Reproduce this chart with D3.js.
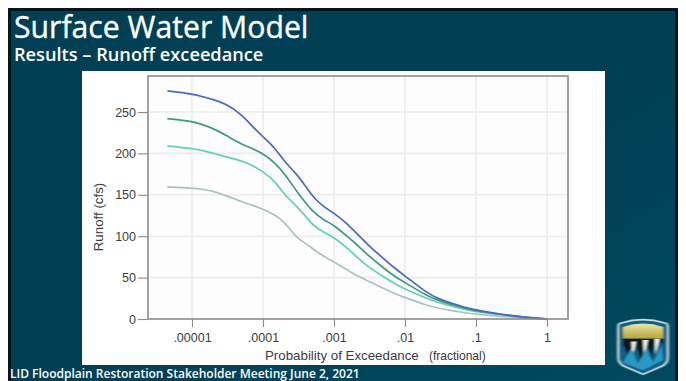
<!DOCTYPE html>
<html><head><meta charset="utf-8">
<script src="https://cdn.jsdelivr.net/npm/d3@7"></script>
<style>
html,body{margin:0;padding:0;background:#fff}
svg{display:block}
text{font-family:"Liberation Sans",Arial,sans-serif}
.slide{font-family:"Open Sans","Noto Sans",sans-serif;fill:#fff}
</style></head><body>
<svg id="c" width="686" height="381"></svg>
<script>
const title = "Surface Water Model";
const subtitle = "Results – Runoff exceedance";
const footer = "LID Floodplain Restoration Stakeholder Meeting June 2, 2021";
const xLabel = "Probability of Exceedance";
const xUnit = "(fractional)";
const yLabel = "Runoff (cfs)";
const xTicks = [0.00001,0.0001,0.001,0.01,0.1,1];
const xTickLabels = [".00001",".0001",".001",".01",".1","1"];
const yTicks = [0,50,100,150,200,250];
const prob = [4.5e-6,1e-5,1.5e-5,2e-5,3e-5,5e-5,7e-5,1e-4,1.5e-4,2e-4,3e-4,4e-4,5e-4,7e-4,1e-3,1.5e-3,2e-3,3e-3,5e-3,7e-3,.01,.02,.03,.05,.07,.1,.2,.3,.5,.7,1];
const runoffBlue  = [275.5,272,268,265,260,247,233,220,206,190,175,160,148,136,128,116,105,89.5,73,62,52,32,24,18,14,11,6.5,4.5,2,1,0];
const runoffGreen = [242,239,234,230,222,211,206,200,188,176,154,140,130,120,113.5,100.5,91.5,77,61.5,52,44,28.5,22,16.5,13,10,6,4,2,1,0];
const runoffTeal  = [209,206,203,200,196,191,186,178,166,150,136,124,113.5,105,99,86.5,76.5,63,51,43,36,25,19.5,14.5,11.5,9,5.5,3.5,1.5,.8,0];
const runoffGray  = [159.5,158,156.5,154.5,149,141.7,137.7,132.5,125.6,117.5,97.4,91.4,85,76,69,60,53,46,37,31,26,16.5,13,9.5,7.5,6,3.5,2.5,1,.5,0];
const seriesColors = ["#a9c4bb","#5fd2b2","#3f9a7c","#4c66c9"];
const seriesData = [runoffGray,runoffTeal,runoffGreen,runoffBlue];

const svg = d3.select("#c");
const defs = svg.append("defs");
defs.append("filter").attr("id","soft").append("feGaussianBlur").attr("stdDeviation",0.5);
const bg = defs.append("linearGradient").attr("id","bg").attr("x1",0).attr("y1",0).attr("x2",1).attr("y2",1);
bg.append("stop").attr("offset",0.55).attr("stop-color","#003f54");
bg.append("stop").attr("offset",1).attr("stop-color","#004a60");
const gold = defs.append("linearGradient").attr("id","gold").attr("x1",0).attr("y1",0).attr("x2",0).attr("y2",1);
gold.append("stop").attr("offset",0).attr("stop-color","#e8e6b0");
gold.append("stop").attr("offset",1).attr("stop-color","#b8a32c");

// slide
svg.append("rect").attr("x",8).attr("y",8).attr("width",670).attr("height",373).attr("fill","#07161c");
svg.append("rect").attr("x",11).attr("y",11).attr("width",664).attr("height",370).attr("fill","url(#bg)");
svg.append("text").attr("class","slide").attr("x",14).attr("y",37.5).attr("font-size",30.2)
  .attr("stroke","#fff").attr("stroke-width",0.35).text(title);
svg.append("text").attr("class","slide").attr("x",14).attr("y",61).attr("font-size",18.2).attr("font-weight",600).text(subtitle);
svg.append("text").attr("class","slide").attr("x",10).attr("y",377.5).attr("font-size",12).attr("font-weight",600).text(footer);

// white panel
svg.append("rect").attr("x",82).attr("y",71).attr("width",523).attr("height",294).attr("fill","#fff");

const x = d3.scaleLog().domain([2.4e-6,1.98]).range([148,568]);
const y = d3.scaleLinear().domain([0,293.5]).range([319,76]);

const plot = svg.append("g").attr("filter","url(#soft)");
plot.append("rect").attr("x",148).attr("y",76).attr("width",420).attr("height",243).attr("fill","#fdfdfd");
plot.append("g").selectAll("line").data(xTicks).join("line")
  .attr("x1",d=>x(d)).attr("x2",d=>x(d)).attr("y1",76).attr("y2",319)
  .attr("stroke","#ececec").attr("stroke-width",1.6);
plot.append("g").selectAll("line").data(yTicks.slice(1)).join("line")
  .attr("x1",148).attr("x2",568).attr("y1",d=>y(d)).attr("y2",d=>y(d))
  .attr("stroke","#ececec").attr("stroke-width",1.6);

const line = d3.line().x((d,i)=>x(prob[i])).y(d=>y(d)).curve(d3.curveBasis);
plot.append("g").selectAll("path").data(seriesData).join("path")
  .attr("d",line).attr("fill","none").attr("stroke-width",1.7)
  .attr("stroke",(d,i)=>seriesColors[i]);

plot.append("rect").attr("x",148).attr("y",76).attr("width",420).attr("height",243)
  .attr("fill","none").attr("stroke","#8b8b8b").attr("stroke-width",1.6);

const xAxis = d3.axisBottom(x).tickValues(xTicks).tickFormat((d,i)=>xTickLabels[i]).tickSize(8).tickPadding(6);
const yAxis = d3.axisLeft(y).tickValues(yTicks).tickSize(10).tickPadding(2);
const gx = svg.append("g").attr("transform","translate(0,319)").call(xAxis);
const gy = svg.append("g").attr("transform","translate(148,0)").call(yAxis);
[gx,gy].forEach(g=>{
  g.select(".domain").remove();
  g.selectAll("line").attr("stroke","#8b8b8b").attr("stroke-width",1.1);
  g.selectAll("text").attr("fill","#3c3c3c").attr("font-size",12.5)
    .style("font-family",'"Liberation Sans",Arial,sans-serif');
});
svg.append("text").attr("x",265).attr("y",360).attr("font-size",13.3).attr("fill","#3c3c3c").text(xLabel);
svg.append("text").attr("x",429).attr("y",360).attr("font-size",12).attr("fill","#333").text(xUnit);
svg.append("text").attr("transform","translate(103,217) rotate(-90)").attr("text-anchor","middle")
  .attr("font-size",13.3).attr("fill","#3c3c3c").text(yLabel);

// logo
const logo = svg.append("g").attr("transform","translate(618,315) scale(1.67,1.32)").attr("filter","url(#soft)");
const shield = "M2 6 Q15 1 28 6 Q30 6 30 9 L30 32 Q30 37 26 39 L15 45 L4 39 Q0 37 0 32 L0 9 Q0 6 2 6 Z";
logo.append("path").attr("d",shield).attr("fill","#0c5f85").attr("stroke","#c7dde0").attr("stroke-width",1.2);
logo.append("path").attr("d","M3 9 Q15 4 27 9 L27 18 L3 18 Z").attr("fill","url(#gold)");
logo.append("path").attr("d","M3 18 L27 18 L27 22 L22 19 L20 33 L17 19 L14 35 L10 20 L7 34 L3 22 Z").attr("fill","#10151a");
logo.append("path").attr("d","M8 20 L11 20 L8.5 32 Z M15 19 L18 19 L15.5 32 Z M22 18 L25 18 L22.5 30 Z").attr("fill","#f3f3ea");
logo.append("path").attr("d","M3 36 L8 25 L12 37 L17 25 L21 36 L26 23 L27 34 L15 42 Z").attr("fill","#2a97c4");
</script>
</body></html>
